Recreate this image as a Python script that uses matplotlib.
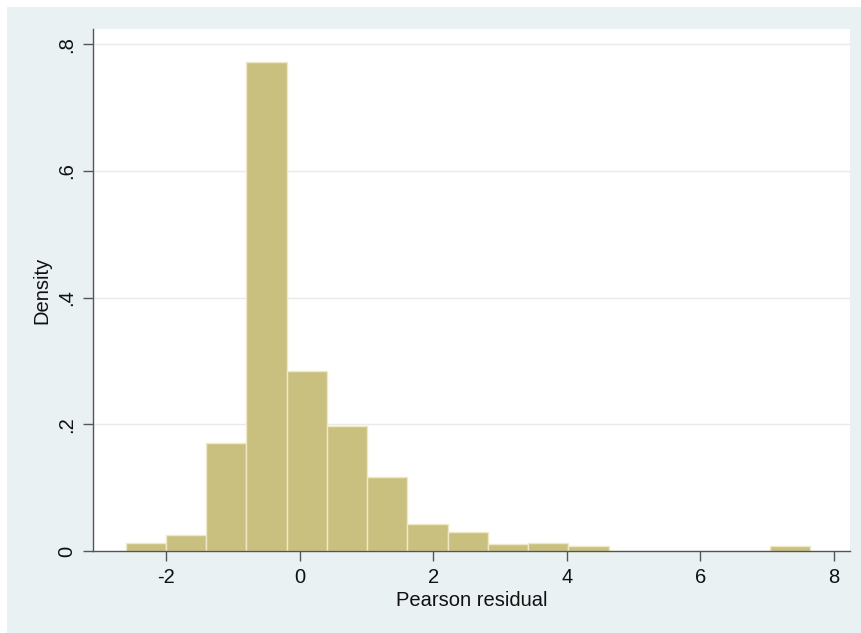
import matplotlib
matplotlib.use("Agg")
import matplotlib.pyplot as plt
import numpy as np
from matplotlib.patches import Rectangle

plt.rcParams['font.family'] = ['Liberation Sans', 'DejaVu Sans']

# Data
bin_start = -2.61
bin_width = 0.603
density = [0.0126, 0.0253, 0.170, 0.7725, 0.284, 0.1975, 0.117, 0.0433,
           0.030, 0.0117, 0.012, 0.0079, 0.0, 0.0, 0.0, 0.0, 0.0079]
x_ticks = [-2, 0, 2, 4, 6, 8]
x_ticklabels = ['-2', '0', '2', '4', '6', '8']
y_ticks = [0, 0.2, 0.4, 0.6, 0.8]
y_ticklabels = ['0', '.2', '.4', '.6', '.8']

W, H = 861, 633
fig = plt.figure(figsize=(W / 100, H / 100), dpi=100)
fig.patch.set_facecolor('white')
# Stata-like outer graph region
bg = Rectangle((7 / W, 0), 1 - 7 / W, 1 - 7 / H, transform=fig.transFigure,
               facecolor='#E9F1F3', edgecolor='none', zorder=-10)
fig.add_artist(bg)

ax = fig.add_axes([93 / W, 1 - 551 / H, (850 - 93) / W, (551 - 29) / H])
ax.set_zorder(5)
ax.set_facecolor('white')

lefts = bin_start + bin_width * np.arange(len(density))
ax.bar(lefts, density, width=bin_width, align='edge', color='#C9C07F',
       edgecolor='#EEE9C4', linewidth=1.0, zorder=2)

ax.set_xlim(-3.10, 8.24)
ax.set_ylim(0, 0.824)

fs = 14.5
ax.set_xticks(x_ticks)
ax.set_xticklabels(x_ticklabels, fontsize=fs)
ax.set_yticks(y_ticks)
ax.set_yticklabels(y_ticklabels, fontsize=fs, rotation=90, va='center')

for y in y_ticks[1:]:
    ax.axhline(y, color='#EAEAEA', linewidth=1.0, zorder=1)

for s in ['top', 'right']:
    ax.spines[s].set_visible(False)
for s in ['left', 'bottom']:
    ax.spines[s].set_color('#555555')
    ax.spines[s].set_linewidth(1.0)
ax.tick_params(axis='both', direction='out', length=7, width=1.0, color='#555555',
               labelcolor='#111111', pad=5)

ax.set_xlabel('Pearson residual', fontsize=fs, color='#111111', labelpad=3)
ax.set_ylabel('Density', fontsize=fs, color='#111111', labelpad=4)

fig.savefig('out.png', dpi=100, facecolor=fig.get_facecolor())
